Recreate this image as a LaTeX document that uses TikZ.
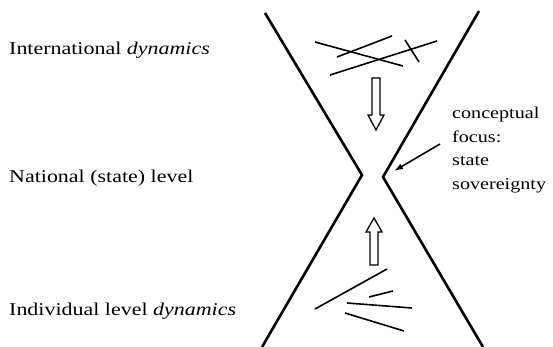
\documentclass[tikz,border=0pt]{standalone}
\usepackage{fontspec}
\setmainfont{Liberation Serif}[FakeStretch=1.22]
\usetikzlibrary{arrows.meta}
\begin{document}
\begin{tikzpicture}[x=1pt,y=-1pt,
  lbl/.style={anchor=west,inner sep=0pt,font=\fontsize{18}{22}\selectfont},
  side/.style={line width=2.6pt,line join=miter},
  scribble/.style={line width=1.6pt},
  hollow/.style={line width=1.3pt,line join=miter}]
\useasboundingbox (0,0) rectangle (553,347);
% funnel lines
\coordinate (lt) at (265,13); \coordinate (lv) at (362,175); \coordinate (lb) at (262,347);
\coordinate (rt) at (479,11); \coordinate (rv) at (383,177); \coordinate (rb) at (483,347);
\draw[side] (lt) -- (lv) -- (lb);
\draw[side] (rt) -- (rv) -- (rb);
% labels
\node[lbl] (intl) at (9,50) {International \textit{dynamics}};
\node[lbl] (natl) at (9,178) {National (state) level};
\node[lbl] (indiv) at (9,311) {Individual level \textit{dynamics}};
\node[inner sep=0pt,anchor=north west,align=left,font=\fontsize{16.5}{23.5}\selectfont] (focus) at (452,107)
  {conceptual\\focus:\\state\\sovereignty};
% focus arrow
\coordinate (fs) at (440,144); \coordinate (fe) at (394,171);
\draw[line width=1.6pt,-{Latex[length=9pt,width=6pt]}] (fs) -- (fe);
% top scribbles
\draw[scribble] (315,42) -- (403,66);
\draw[scribble] (337,57) -- (392,36);
\draw[scribble] (330,75) -- (437,41);
\draw[scribble] (405,40) -- (419,62);
% bottom scribbles
\draw[scribble] (315,309) -- (387,269);
\draw[scribble] (369,297) -- (393,291);
\draw[scribble] (347,303) -- (412,308);
\draw[scribble] (345,313) -- (404,331);
% hollow arrows
\draw[hollow] (372,78) -- (380,78) -- (380,115) -- (384,115) -- (376,130) -- (368,115) -- (372,115) -- cycle;
\draw[hollow] (370,265) -- (378,265) -- (378,232) -- (382,232) -- (374,218) -- (366,232) -- (370,232) -- cycle;
\end{tikzpicture}
\end{document}
